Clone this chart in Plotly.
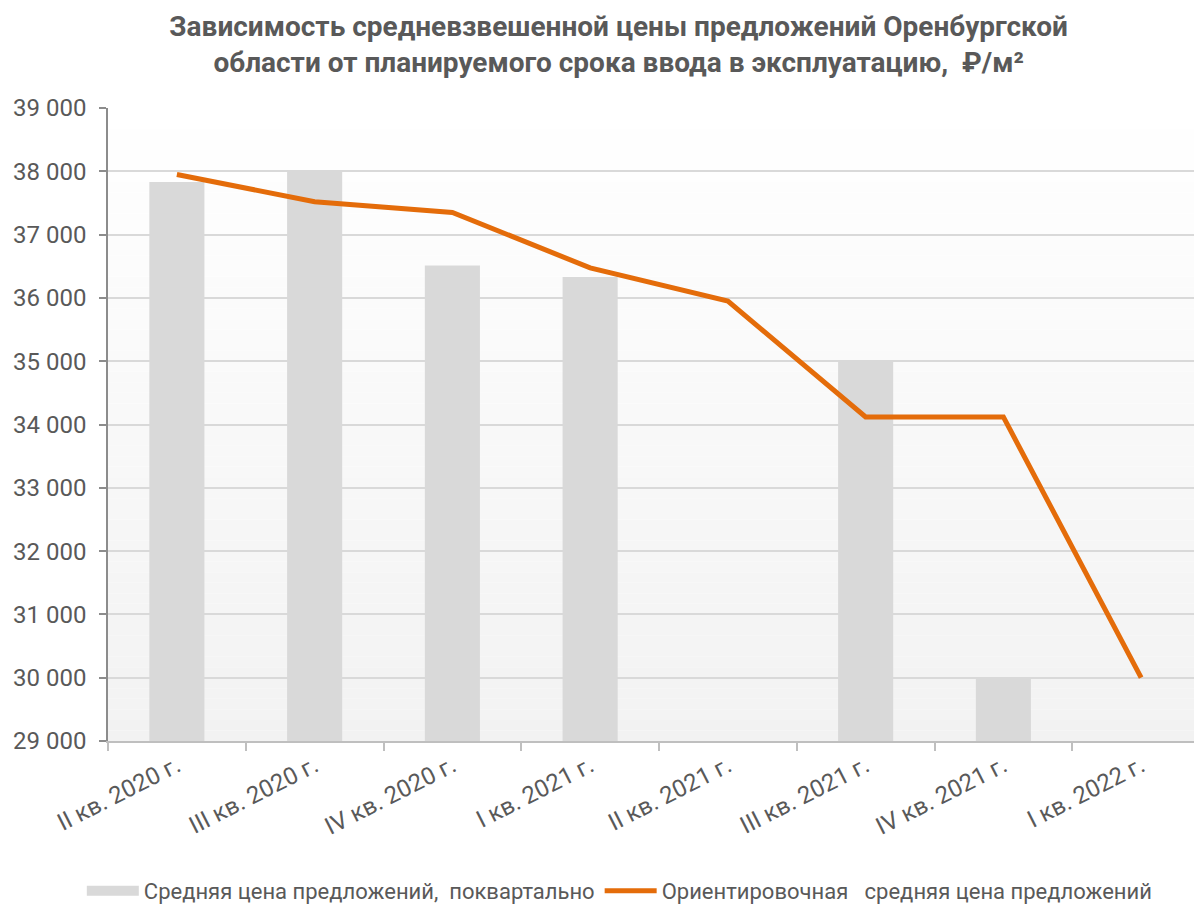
import plotly.graph_objects as go

categories = ["II кв. 2020 г.", "III кв. 2020 г.", "IV кв. 2020 г.", "I кв. 2021 г.",
              "II кв. 2021 г.", "III кв. 2021 г.", "IV кв. 2021 г.", "I кв. 2022 г."]
quarterly_price = [37830, 38010, 36510, 36330, None, 35000, 30010, None]
estimated_price = [37950, 37520, 37350, 36475, 35950, 34120, 34120, 30000]

title_text = ("Зависимость средневзвешенной цены предложений Оренбургской<br>"
              "области от планируемого срока ввода в эксплуатацию,  ₽/м²")
name_bars = "Средняя цена предложений,\u00a0\u00a0поквартально"
name_line = "Ориентировочная\u00a0\u00a0\u00a0средняя цена предложений"

FONT = "Roboto"
TXT = "#595959"
BAR_COLOR = "#d9d9d9"
LINE_COLOR = "#e46c0a"

fig = go.Figure()
fig.add_trace(go.Bar(x=categories, y=quarterly_price, name=name_bars, showlegend=False,
                     marker=dict(color=BAR_COLOR, line=dict(width=0))))
# legend-only entry with a wide rectangular swatch for the bars
fig.add_trace(go.Scatter(x=[None], y=[None], name=name_bars, mode="lines",
                         line=dict(color=BAR_COLOR, width=12)))
fig.add_trace(go.Scatter(x=categories, y=estimated_price, name=name_line, mode="lines",
                         line=dict(color=LINE_COLOR, width=5)))

# vertical gradient background for the plot area
n = 60
shapes = []
for i in range(n):
    t = (i + 0.5) / n
    c = round(242 + (255 - 242) * t)
    shapes.append(dict(type="rect", xref="x domain", yref="y domain",
                       x0=0, x1=1, y0=i / n, y1=(i + 1) / n,
                       fillcolor=f"rgb({c},{c},{c})", line=dict(width=0), layer="below"))

fig.update_layout(
    width=1202, height=904,
    margin=dict(l=100, r=0, t=100, b=171, autoexpand=False),
    paper_bgcolor="white", plot_bgcolor="white",
    separators=", ",
    bargap=0.6,
    shapes=shapes,
    font=dict(family=FONT, color=TXT, size=20),
    title=dict(text=title_text, x=0.508, xref="container", xanchor="center",
               y=1 - 28 / 904, yref="container", yanchor="middle",
               font=dict(family=FONT, size=28, color=TXT, weight="bold")),
    legend=dict(orientation="h", xref="container", yref="container",
                x=0.509, xanchor="center", y=0.0, yanchor="bottom",
                font=dict(family=FONT, size=22, color=TXT), traceorder="normal",
                itemwidth=52),
    showlegend=True,
)
fig.update_xaxes(type="category", range=[-0.5, 7.5], tickson="boundaries",
                 automargin=False,
                 ticks="outside", ticklen=8, tickcolor="#bfbfbf", tickwidth=1.5,
                 showline=True, linecolor="#bfbfbf", linewidth=1.5,
                 showgrid=False, tickangle=-27,
                 tickfont=dict(family=FONT, size=24, color=TXT))
fig.update_yaxes(range=[29000, 39000], dtick=1000, tick0=29000, tickformat=",d",
                 automargin=False,
                 ticks="outside", ticklen=7, tickcolor="#8c8c8c", tickwidth=1.5,
                 showline=True, linecolor="#8c8c8c", linewidth=1.5,
                 showgrid=True, gridcolor="#d9d9d9", gridwidth=1.5,
                 zeroline=False, ticklabelstandoff=8,
                 tickfont=dict(family=FONT, size=24, color=TXT))

fig.write_html("out.html")
